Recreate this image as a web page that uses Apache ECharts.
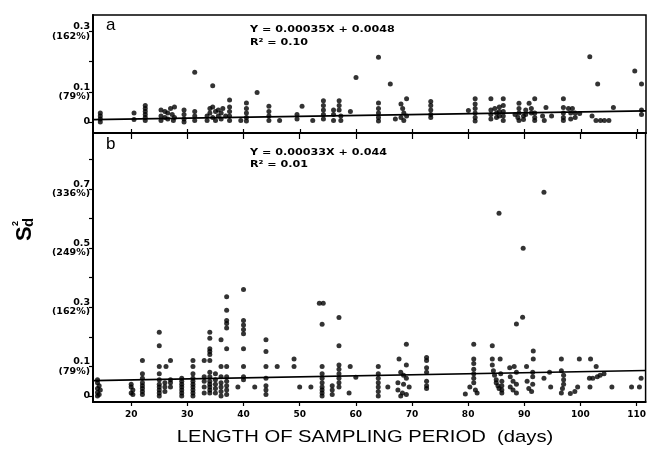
<!DOCTYPE html>
<html><head><meta charset="utf-8">
<script src="https://cdn.jsdelivr.net/npm/echarts@6/dist/echarts.min.js"></script>
<style>html,body{margin:0;padding:0;background:#fff}#c{width:649px;height:456px}</style>
</head><body><div id="c"></div>
<script>
// ---- tick definitions ----
const xTicks = [20, 30, 40, 50, 60, 70, 80, 90, 100, 110];
const aYTicks = [0, 0.1, 0.2, 0.3];
const aYLabels = [0, 0.1, 0.3];
const bYTicks = [0, 0.1, 0.2, 0.3, 0.4, 0.5, 0.6, 0.7, 0.8];
const bYLabels = [0, 0.1, 0.3, 0.5, 0.7];
const pctLabels = {1: '(79%)', 3: '(162%)', 5: '(249%)', 7: '(336%)'};

// ---- panel a data [days, Sd^2] ----
const aPoints = [
[14.5,0.03],[14.5,0.02],[14.5,0.01],[14.5,0.0],
[20.5,0.03],[20.5,0.008],
[22.5,0.055],[22.5,0.045],[22.5,0.035],[22.5,0.025],[22.5,0.015],[22.5,0.005],
[25.3,0.04],[25.3,0.02],[25.3,0.005],[26,0.035],[26,0.015],[26.5,0.03],[26.5,0.01],[27,0.045],[27.3,0.025],[27.5,0.005],[27.7,0.05],[27.7,0.015],
[29.4,0.04],[29.4,0.025],[29.4,0.01],[29.4,0.0],
[31.3,0.165],[31.3,0.035],[31.3,0.02],[31.3,0.005],
[34.5,0.12],[33.5,0.02],[33.5,0.005],[34,0.045],[34,0.03],[34.5,0.05],[34.5,0.015],[35,0.035],[35,0.005],
[35.5,0.04],[35.5,0.02],[36,0.03],[36,0.01],[36.3,0.045],[36.8,0.02],[37.5,0.073],[37.5,0.05],[37.5,0.035],[37.5,0.02],[37.5,0.005],
[39.5,0.005],
[40.5,0.063],[40.5,0.045],[40.5,0.03],[40.5,0.015],[40.5,0.003],
[42.4,0.098],
[44.5,0.052],[44.5,0.035],[44.5,0.02],[44.5,0.005],
[46.4,0.005],
[49.5,0.025],[49.5,0.01],
[50.4,0.052],
[52.3,0.005],
[54.2,0.07],[54.2,0.055],[54.2,0.04],[54.2,0.025],[54.2,0.01],
[56,0.04],[56,0.025],[56,0.005],[57,0.07],[57,0.055],[57,0.04],[57.3,0.02],[57.3,0.005],
[59,0.035],
[60,0.147],
[64,0.214],[64,0.063],[64,0.045],[64,0.03],[64,0.015],[64,0.003],
[66.1,0.126],[67,0.01],
[69,0.077],[68,0.06],[68.3,0.045],[68.5,0.03],[68,0.015],[68.5,0.005],[69,0.02],
[73.3,0.068],[73.3,0.055],[73.3,0.04],[73.3,0.025],[73.3,0.015],
[80,0.038],[81.2,0.077],[81.2,0.06],[81.2,0.045],[81.2,0.03],[81.2,0.015],[81.2,0.003],
[84,0.077],[86.2,0.077],[84,0.04],[84,0.025],[84,0.01],[84.7,0.045],[85,0.03],[85,0.015],[85.5,0.05],[85.5,0.035],[85.5,0.02],[86.2,0.055],[86.2,0.035],[86.2,0.02],[86.2,0.005],
[88.3,0.025],[88.8,0.015],[89,0.062],[89,0.045],[89,0.03],[89,0.005],[89.8,0.02],[89.8,0.008],[90.2,0.04],[90.2,0.025],
[91.8,0.077],[90.8,0.062],[91.2,0.045],[91.2,0.03],[91.8,0.03],[91.8,0.015],[91.8,0.005],
[93.8,0.048],[93.2,0.02],[93.5,0.005],[94.8,0.02],
[96.9,0.077],[96.9,0.048],[96.9,0.03],[96.9,0.015],[96.9,0.005],
[97.8,0.045],[98.5,0.045],[98.2,0.03],[99,0.03],[99,0.015],[98.2,0.01],
[99.8,0.028],[101.6,0.216],
[102,0.02],[102.7,0.005],[103.5,0.005],[104.2,0.005],[105,0.005],
[103,0.126],[105.8,0.048],[109.6,0.169],
[110.8,0.126],[110.8,0.04],[110.8,0.025]
];
const aLine = [[13.2, 0.008], [111.6, 0.037]];

// ---- panel b data [days, Sd^2] ----
const bPoints = [
[14,0.055],[14,0.045],[14.3,0.035],[14,0.025],[14.5,0.02],[14,0.012],[14.3,0.005],[14,0.0],
[20,0.04],[20,0.03],[20.3,0.02],[20,0.01],[20.3,0.005],
[22,0.12],[22,0.075],[22,0.06],[22,0.045],[22,0.035],[22,0.025],[22,0.015],[22,0.005],
[25,0.215],[25,0.17],[25,0.1],[25,0.075],[25,0.055],[25,0.04],[25,0.03],[25,0.02],[25,0.01],[25,0.0],
[26.2,0.1],[26,0.045],[26,0.03],[26,0.015],
[27,0.12],[27,0.055],[27,0.045],[27,0.03],
[29,0.06],[29,0.05],[29,0.04],[29,0.03],[29,0.02],[29,0.01],[29,0.0],
[31,0.12],[31,0.1],[31,0.075],[31,0.06],[31,0.05],[31,0.04],[31,0.03],[31,0.02],[31,0.01],[31,0.0],
[33,0.12],[33,0.065],[33,0.05],[33,0.03],[33,0.01],
[34,0.215],[34,0.195],[34,0.16],[34,0.15],[34,0.14],[34,0.12],[34,0.08],[34,0.065],[34,0.05],[34,0.04],[34,0.03],[34,0.02],[34,0.01],
[35,0.075],[35,0.055],[35,0.04],[35,0.025],[35,0.01],
[36,0.19],[36,0.1],[36,0.065],[36,0.045],[36,0.03],[36,0.015],[36,0.0],
[37,0.335],[37,0.29],[37,0.255],[37,0.245],[37,0.23],[37,0.16],[37,0.1],[37,0.065],[37,0.05],[37,0.035],[37,0.02],[37,0.005],
[39,0.03],
[40,0.36],[40,0.255],[40,0.24],[40,0.225],[40,0.21],[40,0.16],[40,0.1],[40,0.065],[40,0.055],
[42,0.03],
[44,0.19],[44,0.15],[44,0.1],[44,0.06],[44,0.035],[44,0.02],[44,0.005],
[46,0.1],
[49,0.125],[49,0.1],
[50,0.03],[52,0.03],
[53.5,0.313],[54.2,0.313],[54,0.242],[54,0.1],[54,0.075],[54,0.06],[54,0.045],[54,0.03],[54,0.02],[54,0.01],[54,0.0],
[55.8,0.035],[55.8,0.02],[55.8,0.005],
[57,0.265],[57,0.17],[57,0.105],[57,0.09],[57,0.075],[57,0.06],[57,0.045],[57,0.03],
[59,0.1],[58.8,0.01],[60,0.063],
[64,0.1],[64,0.075],[64,0.06],[64,0.045],[64,0.03],[64,0.015],[64,0.0],
[65.7,0.03],
[69,0.175],[67.7,0.125],[69,0.105],[68,0.08],[68.5,0.07],[69,0.06],[67.5,0.045],[68.5,0.04],[69.5,0.03],[67.5,0.02],[68.3,0.01],[68,0.0],[69,0.005],
[72.6,0.13],[72.6,0.12],[72.6,0.095],[72.6,0.08],[72.6,0.05],[72.6,0.035],[72.6,0.025],
[79.5,0.007],[80.3,0.03],[81,0.175],[81,0.125],[81,0.11],[81,0.09],[81,0.075],[81,0.06],[81,0.045],[81.3,0.02],[81.6,0.01],
[84.3,0.17],[84.3,0.125],[84.3,0.105],[84.5,0.085],[84.7,0.07],[85,0.055],[85,0.045],[85.3,0.035],[85.5,0.025],
[85.7,0.125],[85.8,0.075],[86,0.05],[86,0.035],[86,0.02],[86,0.01],
[88.6,0.243],[89.7,0.266],[87.4,0.095],[88.2,0.1],[88.6,0.08],[87.5,0.065],[88,0.05],[88.6,0.04],[87.5,0.03],[88,0.02],[88.6,0.01],
[91.6,0.152],[91.6,0.125],[90.4,0.1],[91.5,0.08],[91.5,0.065],[90.5,0.05],[91.5,0.04],[90.8,0.025],[91.3,0.015],
[93.5,0.06],[94.5,0.08],[94.7,0.03],
[96.6,0.125],[96.6,0.085],[97,0.07],[97,0.055],[97,0.04],[96.8,0.025],[96.6,0.01],
[98.2,0.008],[99,0.015],[99.5,0.03],[99.8,0.125],
[101.8,0.125],[102.8,0.1],[101.6,0.06],[102.2,0.06],[101.7,0.03],[103,0.065],[103.5,0.07],
[104.2,0.075],[105.6,0.03],[109.1,0.03],[110.5,0.03],[110.8,0.06]
];
const bOutliers = [[85.5,0.617],[89.8,0.499],[93.5,0.688]];
const bLine = [[13.2, 0.052], [111.6, 0.086]];

// ---- text ----
const eqA = ['Y = 0.00035X + 0.0048', 'R² = 0.10'];
const eqB = ['Y = 0.00033X + 0.044', 'R² = 0.01'];
const xTitle = 'LENGTH OF SAMPLING PERIOD  (days)';

const X_MIN = 13.2, X_MAX = 111.6;
const lblFont = {fontFamily: 'DejaVu Sans', fontWeight: 'bold', fontSize: 9.5, color: '#000'};

function yLabelFmt(v) {
  const k = Math.round(v * 10);
  if (k === 0) return '0';
  return (k / 10).toFixed(1) + '\n' + pctLabels[k];
}

function yAxis(grid, min, max, ticks, labels) {
  return {
    type: 'value', gridIndex: grid, min: min, max: max,
    axisLine: {show: true, onZero: false, lineStyle: {color: '#000', width: 2}},
    axisTick: {show: true, inside: false, length: 4, lineStyle: {color: '#000', width: 1.2}, customValues: ticks},
    axisLabel: Object.assign({show: true, customValues: labels, formatter: yLabelFmt, margin: 3, lineHeight: 9.5, align: 'right'}, lblFont),
    splitLine: {show: false}
  };
}

const chart = echarts.init(document.getElementById('c'), null, {renderer: 'canvas'});

const option = {
  backgroundColor: '#fff',
  animation: false,
  grid: [
    {left: 93, top: 15, width: 553, height: 118, show: true, borderColor: '#000', borderWidth: 1.5, backgroundColor: 'transparent'},
    {left: 93, top: 133, width: 553, height: 269, show: true, borderColor: '#000', borderWidth: 1.5, backgroundColor: 'transparent'}
  ],
  xAxis: [
    {type: 'value', gridIndex: 0, min: X_MIN, max: X_MAX, position: 'bottom',
     axisLine: {show: true, onZero: false, lineStyle: {color: '#000', width: 2}},
     axisTick: {show: true, inside: true, length: 4, lineStyle: {color: '#000', width: 1.2}, customValues: xTicks},
     axisLabel: {show: false}, splitLine: {show: false}},
    {type: 'value', gridIndex: 1, min: X_MIN, max: X_MAX, position: 'bottom',
     axisLine: {show: true, onZero: false, lineStyle: {color: '#000', width: 2}},
     axisTick: {show: true, inside: false, length: 4, lineStyle: {color: '#000', width: 1.2}, customValues: xTicks},
     axisLabel: Object.assign({show: true, customValues: xTicks, margin: 8}, lblFont, {fontSize: 9}),
     splitLine: {show: false}},
    {type: 'value', gridIndex: 1, min: X_MIN, max: X_MAX, position: 'top',
     axisLine: {show: true, onZero: false, lineStyle: {color: '#000', width: 2}},
     axisTick: {show: true, inside: true, length: 6, lineStyle: {color: '#000', width: 1.2}, customValues: xTicks},
     axisLabel: {show: false}, splitLine: {show: false}}
  ],
  yAxis: [
    yAxis(0, -0.0364, 0.3543, aYTicks, aYLabels),
    yAxis(1, -0.0203, 0.8885, bYTicks, bYLabels)
  ],
  series: [
    {type: 'scatter', xAxisIndex: 0, yAxisIndex: 0, data: aPoints, symbol: 'circle', symbolSize: 5,
     itemStyle: {color: '#000'}, clip: false},
    {type: 'line', xAxisIndex: 0, yAxisIndex: 0, data: aLine, symbol: 'none',
     lineStyle: {color: '#000', width: 1.6}},
    {type: 'scatter', xAxisIndex: 1, yAxisIndex: 1, data: bPoints, symbol: 'circle', symbolSize: 5,
     itemStyle: {color: '#000'}, clip: false},
    {type: 'scatter', xAxisIndex: 1, yAxisIndex: 1, data: bOutliers, symbol: 'circle', symbolSize: 5,
     itemStyle: {color: '#000'}},
    {type: 'line', xAxisIndex: 1, yAxisIndex: 1, data: bLine, symbol: 'none',
     lineStyle: {color: '#000', width: 1.6}}
  ],
  graphic: [
    {type: 'text', left: 106, top: 17, style: {text: 'a', font: '17px "Liberation Sans"', fill: '#000'}},
    {type: 'text', left: 106, top: 136, style: {text: 'b', font: '17px "Liberation Sans"', fill: '#000'}},
    {type: 'text', x: 250, y: 30, scaleX: 1.24, style: {text: eqA[0], font: 'bold 9px "DejaVu Sans"', fill: '#000', verticalAlign: 'middle'}},
    {type: 'text', x: 250, y: 43, scaleX: 1.24, style: {text: eqA[1], font: 'bold 9px "DejaVu Sans"', fill: '#000', verticalAlign: 'middle'}},
    {type: 'text', x: 250, y: 152.5, scaleX: 1.24, style: {text: eqB[0], font: 'bold 9px "DejaVu Sans"', fill: '#000', verticalAlign: 'middle'}},
    {type: 'text', x: 250, y: 165, scaleX: 1.24, style: {text: eqB[1], font: 'bold 9px "DejaVu Sans"', fill: '#000', verticalAlign: 'middle'}},
    {type: 'text', x: 365, y: 437, scaleX: 1.19, style: {text: xTitle, font: '17px "Liberation Sans"', fill: '#000', align: 'center', verticalAlign: 'middle'}},
    {type: 'group', x: 25, y: 241, rotation: Math.PI / 2, children: [
      {type: 'text', x: 0, y: 0, style: {text: 'S', font: 'bold 22px "Liberation Sans"', fill: '#000', verticalAlign: 'middle', align: 'left'}},
      {type: 'text', x: 15, y: -9, style: {text: '2', font: 'bold 9px "Liberation Sans"', fill: '#000', verticalAlign: 'middle', align: 'left'}},
      {type: 'text', x: 14, y: 4, style: {text: 'd', font: 'bold 15px "Liberation Sans"', fill: '#000', verticalAlign: 'middle', align: 'left'}}
    ]}
  ]
};
chart.setOption(option);
</script>
</body></html>
